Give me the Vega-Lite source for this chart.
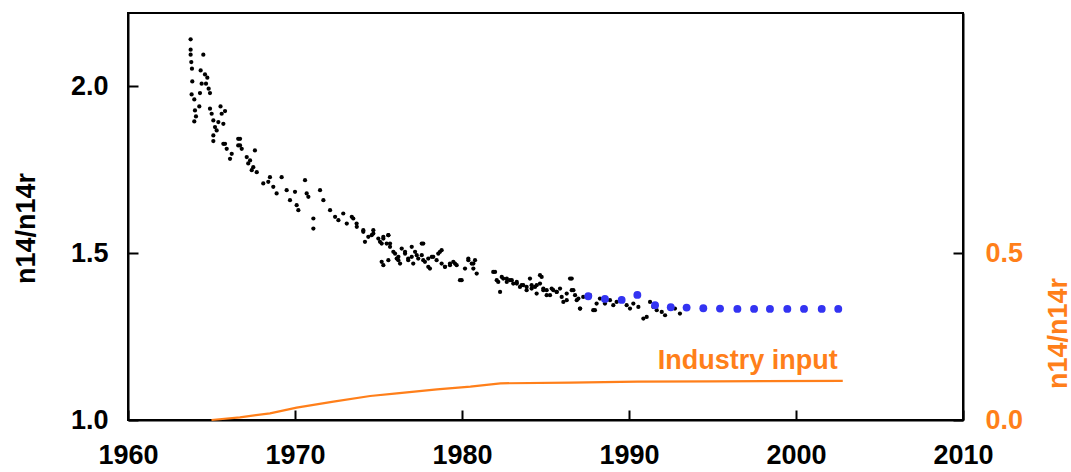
{
  "$schema": "https://vega.github.io/schema/vega-lite/v6.json",
  "width": 835,
  "height": 407,
  "autosize": {"type": "none"},
  "padding": {"left": 128, "top": 13, "right": 108, "bottom": 52},
  "background": "white",
  "config": {
    "view": {"stroke": "black", "strokeWidth": 2},
    "font": "Liberation Sans",
    "axis": {
      "grid": false,
      "domainColor": "black",
      "domainWidth": 2,
      "tickColor": "black",
      "tickWidth": 2,
      "labelFont": "Liberation Sans",
      "labelFontSize": 27,
      "labelFontWeight": "bold",
      "labelColor": "black",
      "labelFlush": false,
      "labelOverlap": false,
      "labelBound": false,
      "titleFont": "Liberation Sans",
      "titleFontSize": 27,
      "titleFontWeight": "bold"
    }
  },
  "datasets": {
    "obs": [
      {"year": 1963.75, "ratio": 2.141}, {"year": 1963.75, "ratio": 2.110}, {"year": 1963.75, "ratio": 2.095},
      {"year": 1963.79, "ratio": 2.073}, {"year": 1963.83, "ratio": 2.053}, {"year": 1963.85, "ratio": 2.015},
      {"year": 1963.81, "ratio": 1.976}, {"year": 1963.97, "ratio": 1.961}, {"year": 1964.01, "ratio": 1.928},
      {"year": 1964.07, "ratio": 1.910}, {"year": 1963.97, "ratio": 1.895}, {"year": 1964.51, "ratio": 2.095},
      {"year": 1964.35, "ratio": 2.048}, {"year": 1964.61, "ratio": 2.036}, {"year": 1964.75, "ratio": 2.026},
      {"year": 1964.41, "ratio": 2.008}, {"year": 1964.67, "ratio": 2.008}, {"year": 1964.83, "ratio": 1.993},
      {"year": 1964.31, "ratio": 1.980}, {"year": 1964.91, "ratio": 1.980}, {"year": 1964.27, "ratio": 1.940},
      {"year": 1964.91, "ratio": 1.933}, {"year": 1965.54, "ratio": 1.940}, {"year": 1965.01, "ratio": 1.918},
      {"year": 1965.61, "ratio": 1.918}, {"year": 1965.81, "ratio": 1.926}, {"year": 1965.11, "ratio": 1.898},
      {"year": 1965.41, "ratio": 1.893}, {"year": 1965.71, "ratio": 1.888}, {"year": 1965.21, "ratio": 1.878},
      {"year": 1965.31, "ratio": 1.868}, {"year": 1965.11, "ratio": 1.853}, {"year": 1965.11, "ratio": 1.836},
      {"year": 1965.81, "ratio": 1.828}, {"year": 1966.60, "ratio": 1.843}, {"year": 1966.71, "ratio": 1.823},
      {"year": 1965.71, "ratio": 1.828}, {"year": 1965.91, "ratio": 1.813}, {"year": 1966.21, "ratio": 1.798},
      {"year": 1966.11, "ratio": 1.783}, {"year": 1966.60, "ratio": 1.823}, {"year": 1966.81, "ratio": 1.813},
      {"year": 1966.71, "ratio": 1.843}, {"year": 1967.11, "ratio": 1.788}, {"year": 1967.20, "ratio": 1.769},
      {"year": 1967.50, "ratio": 1.758}, {"year": 1967.71, "ratio": 1.743}, {"year": 1967.41, "ratio": 1.749},
      {"year": 1967.60, "ratio": 1.808}, {"year": 1967.31, "ratio": 1.778}, {"year": 1968.10, "ratio": 1.709},
      {"year": 1968.40, "ratio": 1.714}, {"year": 1968.50, "ratio": 1.728}, {"year": 1968.70, "ratio": 1.699},
      {"year": 1968.90, "ratio": 1.679}, {"year": 1969.20, "ratio": 1.728}, {"year": 1969.50, "ratio": 1.689},
      {"year": 1969.70, "ratio": 1.659}, {"year": 1970.00, "ratio": 1.684}, {"year": 1970.10, "ratio": 1.644},
      {"year": 1970.20, "ratio": 1.629}, {"year": 1970.60, "ratio": 1.719}, {"year": 1970.70, "ratio": 1.679},
      {"year": 1970.80, "ratio": 1.669}, {"year": 1971.10, "ratio": 1.604}, {"year": 1971.10, "ratio": 1.574},
      {"year": 1971.50, "ratio": 1.689}, {"year": 1971.70, "ratio": 1.659}, {"year": 1972.10, "ratio": 1.629},
      {"year": 1972.40, "ratio": 1.609}, {"year": 1972.60, "ratio": 1.599}, {"year": 1972.89, "ratio": 1.619},
      {"year": 1973.10, "ratio": 1.589}, {"year": 1973.40, "ratio": 1.609}, {"year": 1973.70, "ratio": 1.579},
      {"year": 1974.09, "ratio": 1.564}, {"year": 1974.39, "ratio": 1.549}, {"year": 1974.69, "ratio": 1.559},
      {"year": 1975.09, "ratio": 1.534}, {"year": 1975.29, "ratio": 1.549}, {"year": 1975.69, "ratio": 1.519},
      {"year": 1975.99, "ratio": 1.499}, {"year": 1975.29, "ratio": 1.464}, {"year": 1976.19, "ratio": 1.479},
      {"year": 1973.49, "ratio": 1.604}, {"year": 1973.69, "ratio": 1.589}, {"year": 1974.09, "ratio": 1.569},
      {"year": 1974.19, "ratio": 1.534}, {"year": 1974.69, "ratio": 1.569}, {"year": 1974.59, "ratio": 1.554},
      {"year": 1974.99, "ratio": 1.544}, {"year": 1975.19, "ratio": 1.529}, {"year": 1975.29, "ratio": 1.544},
      {"year": 1975.59, "ratio": 1.554}, {"year": 1975.69, "ratio": 1.529}, {"year": 1975.89, "ratio": 1.504},
      {"year": 1976.09, "ratio": 1.484}, {"year": 1976.39, "ratio": 1.514}, {"year": 1976.59, "ratio": 1.499},
      {"year": 1976.78, "ratio": 1.479}, {"year": 1976.99, "ratio": 1.489}, {"year": 1977.19, "ratio": 1.504},
      {"year": 1977.38, "ratio": 1.484}, {"year": 1977.59, "ratio": 1.494}, {"year": 1977.68, "ratio": 1.529},
      {"year": 1977.78, "ratio": 1.474}, {"year": 1977.98, "ratio": 1.459}, {"year": 1978.19, "ratio": 1.489},
      {"year": 1978.48, "ratio": 1.479}, {"year": 1978.68, "ratio": 1.504}, {"year": 1978.78, "ratio": 1.469},
      {"year": 1978.98, "ratio": 1.459}, {"year": 1979.28, "ratio": 1.469}, {"year": 1979.48, "ratio": 1.474},
      {"year": 1979.68, "ratio": 1.464}, {"year": 1979.98, "ratio": 1.419}, {"year": 1980.18, "ratio": 1.454},
      {"year": 1980.38, "ratio": 1.479}, {"year": 1980.58, "ratio": 1.469}, {"year": 1980.68, "ratio": 1.454},
      {"year": 1980.88, "ratio": 1.439}, {"year": 1980.78, "ratio": 1.479},
      {"year": 1975.59, "ratio": 1.554}, {"year": 1975.49, "ratio": 1.529}, {"year": 1975.19, "ratio": 1.474},
      {"year": 1975.59, "ratio": 1.479}, {"year": 1976.19, "ratio": 1.489}, {"year": 1976.29, "ratio": 1.469},
      {"year": 1976.59, "ratio": 1.504}, {"year": 1976.78, "ratio": 1.484}, {"year": 1976.99, "ratio": 1.519},
      {"year": 1977.08, "ratio": 1.469}, {"year": 1977.29, "ratio": 1.494}, {"year": 1977.59, "ratio": 1.529},
      {"year": 1977.68, "ratio": 1.479}, {"year": 1977.98, "ratio": 1.484}, {"year": 1978.08, "ratio": 1.454},
      {"year": 1978.28, "ratio": 1.489}, {"year": 1978.58, "ratio": 1.499}, {"year": 1978.78, "ratio": 1.509},
      {"year": 1978.98, "ratio": 1.459}, {"year": 1979.28, "ratio": 1.464}, {"year": 1979.58, "ratio": 1.469},
      {"year": 1979.88, "ratio": 1.419}, {"year": 1980.38, "ratio": 1.484}, {"year": 1980.68, "ratio": 1.469},
      {"year": 1981.87, "ratio": 1.444}, {"year": 1982.08, "ratio": 1.419}, {"year": 1982.28, "ratio": 1.384},
      {"year": 1982.47, "ratio": 1.424}, {"year": 1982.68, "ratio": 1.414}, {"year": 1982.87, "ratio": 1.419},
      {"year": 1983.07, "ratio": 1.409}, {"year": 1983.28, "ratio": 1.414}, {"year": 1983.47, "ratio": 1.399},
      {"year": 1983.67, "ratio": 1.404}, {"year": 1983.87, "ratio": 1.389}, {"year": 1984.07, "ratio": 1.424},
      {"year": 1984.17, "ratio": 1.404}, {"year": 1984.37, "ratio": 1.399}, {"year": 1984.47, "ratio": 1.379},
      {"year": 1984.67, "ratio": 1.409}, {"year": 1984.77, "ratio": 1.429}, {"year": 1984.87, "ratio": 1.394},
      {"year": 1985.07, "ratio": 1.389}, {"year": 1985.27, "ratio": 1.374}, {"year": 1985.47, "ratio": 1.389},
      {"year": 1985.67, "ratio": 1.384}, {"year": 1985.87, "ratio": 1.394}, {"year": 1986.07, "ratio": 1.354},
      {"year": 1986.27, "ratio": 1.379}, {"year": 1986.47, "ratio": 1.424}, {"year": 1986.57, "ratio": 1.389},
      {"year": 1986.77, "ratio": 1.374}, {"year": 1986.87, "ratio": 1.359}, {"year": 1987.07, "ratio": 1.334},
      {"year": 1987.26, "ratio": 1.369}, {"year": 1987.66, "ratio": 1.374}, {"year": 1987.96, "ratio": 1.329},
      {"year": 1988.06, "ratio": 1.349}, {"year": 1988.26, "ratio": 1.364}, {"year": 1988.56, "ratio": 1.349},
      {"year": 1988.86, "ratio": 1.359}, {"year": 1989.06, "ratio": 1.344}, {"year": 1989.26, "ratio": 1.354},
      {"year": 1989.56, "ratio": 1.364}, {"year": 1989.86, "ratio": 1.344}, {"year": 1990.06, "ratio": 1.334},
      {"year": 1990.26, "ratio": 1.349}, {"year": 1990.56, "ratio": 1.339}, {"year": 1990.86, "ratio": 1.304},
      {"year": 1991.06, "ratio": 1.309}, {"year": 1991.26, "ratio": 1.354}, {"year": 1991.46, "ratio": 1.339},
      {"year": 1991.66, "ratio": 1.329}, {"year": 1991.96, "ratio": 1.324}, {"year": 1992.16, "ratio": 1.314},
      {"year": 1992.46, "ratio": 1.339}, {"year": 1992.75, "ratio": 1.334}, {"year": 1993.05, "ratio": 1.319},
      {"year": 1981.98, "ratio": 1.444}, {"year": 1982.17, "ratio": 1.414}, {"year": 1982.38, "ratio": 1.429},
      {"year": 1982.68, "ratio": 1.424}, {"year": 1982.98, "ratio": 1.419}, {"year": 1983.28, "ratio": 1.409},
      {"year": 1983.57, "ratio": 1.404}, {"year": 1983.87, "ratio": 1.399}, {"year": 1984.17, "ratio": 1.394},
      {"year": 1984.47, "ratio": 1.404}, {"year": 1984.67, "ratio": 1.434}, {"year": 1984.87, "ratio": 1.389},
      {"year": 1985.07, "ratio": 1.374}, {"year": 1985.37, "ratio": 1.394}, {"year": 1985.67, "ratio": 1.384},
      {"year": 1985.97, "ratio": 1.369}, {"year": 1986.27, "ratio": 1.359}, {"year": 1986.57, "ratio": 1.424},
      {"year": 1986.67, "ratio": 1.389}, {"year": 1986.97, "ratio": 1.364}, {"year": 1987.07, "ratio": 1.334},
      {"year": 1987.86, "ratio": 1.329}
    ],
    "model": [
      {"year": 1987.56, "ratio": 1.371}, {"year": 1988.56, "ratio": 1.363}, {"year": 1989.56, "ratio": 1.360},
      {"year": 1990.50, "ratio": 1.375}, {"year": 1991.56, "ratio": 1.344}, {"year": 1992.50, "ratio": 1.338},
      {"year": 1993.45, "ratio": 1.337}, {"year": 1994.45, "ratio": 1.335}, {"year": 1995.45, "ratio": 1.334},
      {"year": 1996.49, "ratio": 1.333}, {"year": 1997.49, "ratio": 1.333}, {"year": 1998.44, "ratio": 1.333},
      {"year": 1999.48, "ratio": 1.333}, {"year": 2000.48, "ratio": 1.333}, {"year": 2001.54, "ratio": 1.333},
      {"year": 2002.53, "ratio": 1.333}
    ],
    "industry": [
      {"year": 1965.0, "input": 0.0}, {"year": 1966.7, "input": 0.008}, {"year": 1968.5, "input": 0.020},
      {"year": 1970.1, "input": 0.037}, {"year": 1972.3, "input": 0.055}, {"year": 1974.5, "input": 0.072},
      {"year": 1976.1, "input": 0.080}, {"year": 1978.5, "input": 0.092}, {"year": 1980.5, "input": 0.100},
      {"year": 1982.3, "input": 0.110}, {"year": 1986.5, "input": 0.112}, {"year": 1990.5, "input": 0.115},
      {"year": 1995.0, "input": 0.116}, {"year": 2002.8, "input": 0.117}
    ],
    "note": [
      {"year": 2002.5, "ratio": 1.153, "label": "Industry input"}
    ]
  },
  "layer": [
    {
      "layer": [
        {
          "data": {"name": "obs"},
          "mark": {"type": "circle", "size": 18, "color": "black", "opacity": 1},
          "encoding": {
            "x": {
              "field": "year", "type": "quantitative",
              "scale": {"domain": [1960, 2010], "nice": false, "zero": false},
              "axis": {
                "values": [1960, 1970, 1980, 1990, 2000, 2010], "format": "d",
                "tickSize": -10, "labelPadding": 32, "title": null
              }
            },
            "y": {
              "field": "ratio", "type": "quantitative",
              "scale": {"domain": [1.0, 2.22], "nice": false, "zero": false},
              "axis": {
                "orient": "left", "values": [1.0, 1.5, 2.0], "format": ".1f",
                "tickSize": -10, "labelPadding": 30,
                "title": "n14/n14r", "titleAngle": -90, "titleX": -94, "titleY": 215,
                "titleAlign": "center", "titleBaseline": "alphabetic", "titleColor": "black"
              }
            }
          }
        },
        {
          "data": {"name": "model"},
          "mark": {"type": "circle", "size": 62, "color": "#3333f2", "opacity": 1},
          "encoding": {
            "x": {"field": "year", "type": "quantitative"},
            "y": {"field": "ratio", "type": "quantitative"}
          }
        },
        {
          "data": {"name": "note"},
          "mark": {"type": "text", "align": "right", "baseline": "alphabetic", "fontSize": 27, "fontWeight": "bold", "color": "#ff7f1a", "font": "Liberation Sans"},
          "encoding": {
            "x": {"field": "year", "type": "quantitative"},
            "y": {"field": "ratio", "type": "quantitative"},
            "text": {"field": "label"}
          }
        }
      ]
    },
    {
      "data": {"name": "industry"},
      "mark": {"type": "line", "color": "#ff7f1a", "strokeWidth": 2.2},
      "encoding": {
        "x": {"field": "year", "type": "quantitative"},
        "y": {
          "field": "input", "type": "quantitative",
          "scale": {"domain": [0, 1.22], "nice": false, "zero": false},
          "axis": {
            "orient": "right", "values": [0, 0.5], "format": ".1f",
            "tickSize": -10, "labelPadding": 32,
            "labelColor": "#ff7f1a", "labelAlign": "left",
            "title": "n14/n14r", "titleColor": "#ff7f1a", "titleAngle": -90, "titleX": 103, "titleY": 320,
            "titleAlign": "center", "titleBaseline": "alphabetic"
          }
        }
      }
    }
  ],
  "resolve": {"scale": {"y": "independent"}}
}
